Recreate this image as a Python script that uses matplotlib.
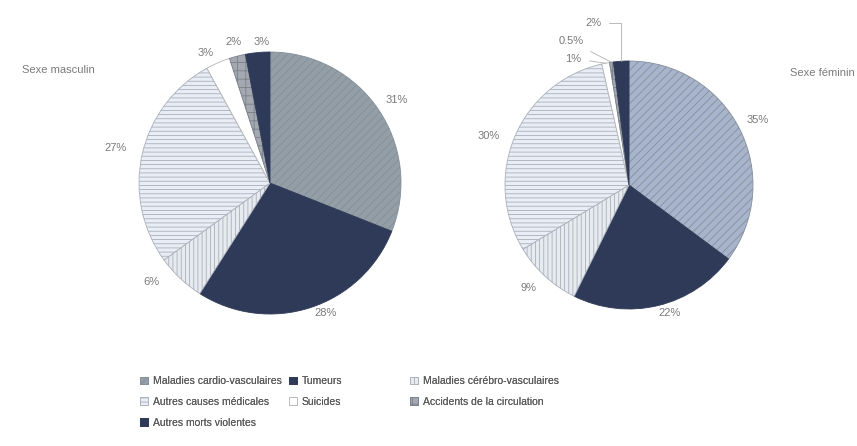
import numpy as np
import matplotlib.pyplot as plt
from matplotlib.patches import Patch

# Causes de décès par sexe (en %)
causes = [
    "Maladies cardio-vasculaires",
    "Tumeurs",
    "Maladies cérébro-vasculaires",
    "Autres causes médicales",
    "Suicides",
    "Accidents de la circulation",
    "Autres morts violentes",
]
hommes = [31, 28, 6, 27, 3, 2, 3]
femmes = [35, 22, 9, 30, 1, 0.5, 2]

plt.rcParams["font.family"] = ["Liberation Sans", "DejaVu Sans"]
plt.rcParams["hatch.linewidth"] = 0.6

couleurs_h = ["#949ea7", "#2e3a57", "#e7eaef", "#e9edf5", "#ffffff", "#a4a9b1", "#2e3a57"]
couleurs_f = ["#a8b4cc", "#2e3a57", "#e7eaef", "#e9edf5", "#ffffff", "#a4a9b1", "#2e3a57"]
traits = ["#848f99", "#2e3a57", "#a9b0bb", "#a9b0bb", "#b5b5b5", "#7a808a", "#2e3a57"]
hachures = ["////", "", "||||", "----", "", "++", ""]

# placement des étiquettes (distance au centre en rayons, décalage angulaire en degrés)
dist_h = [1.16, 1.08, 1.18, 1.21, 1.11, 1.11, 1.08]
decal_h = [-1, 5, -7, 0, 3, 0, -2]
dist_f = [1.16, 1.08, 1.16, 1.20]
decal_f = [0, 4, -2, 4]

W, H = 857, 446
fig = plt.figure(figsize=(W / 100, H / 100), dpi=100)


def axes_camembert(cx, cy, r):
    ax = fig.add_axes([(cx - r) / W, 1 - (cy + r) / H, 2 * r / W, 2 * r / H])
    ax.axis("off")
    return ax


def camembert(ax, valeurs, couleurs):
    wedges, _ = ax.pie(valeurs, colors=couleurs, startangle=90, counterclock=False,
                       radius=1, hatch=hachures, frame=False,
                       wedgeprops=dict(linewidth=0.6))
    for w, c in zip(wedges, traits):
        w.set_edgecolor(c)
    ax.set_xlim(-1, 1)
    ax.set_ylim(-1, 1)
    return wedges


def etiquette(ax, w, v, dist, decal):
    a = np.deg2rad((w.theta1 + w.theta2) / 2 + decal)
    ax.text(dist * np.cos(a), dist * np.sin(a), f"{v:g}%", ha="center", va="center",
            fontsize=8, color="#7a7a7a")


# Sexe masculin
ax1 = axes_camembert(270, 183, 131)
w1 = camembert(ax1, hommes, couleurs_h)
for w, v, d, o in zip(w1, hommes, dist_h, decal_h):
    etiquette(ax1, w, v, d, o)
fig.text(22 / W, 1 - 70 / H, "Sexe masculin", fontsize=8, color="#7a7a7a", va="center")

# Sexe féminin
ax2 = axes_camembert(629, 185, 124)
w2 = camembert(ax2, femmes, couleurs_f)
for w, v, d, o in zip(w2[:4], femmes[:4], dist_f, decal_f):
    etiquette(ax2, w, v, d, o)

# petites parts : étiquettes décalées avec traits de rappel
pos_petites = [(-0.45, 1.02), (-0.47, 1.16), (-0.29, 1.31)]
for w, v, (tx, ty) in zip(w2[4:], femmes[4:], pos_petites):
    a = np.deg2rad((w.theta1 + w.theta2) / 2)
    style = "angle,angleA=0,angleB=90,rad=0" if v == femmes[-1] else "arc3"
    ax2.annotate(f"{v:g}%", xy=(np.cos(a), np.sin(a)), xytext=(tx, ty),
                 ha="center", va="center", fontsize=8, color="#7a7a7a",
                 arrowprops=dict(arrowstyle="-", color="#b0b0b0", lw=0.6,
                                 shrinkA=4, shrinkB=0, connectionstyle=style))
fig.text(790 / W, 1 - 73 / H, "Sexe féminin", fontsize=8, color="#7a7a7a", va="center")

# Légende en trois colonnes
poignees = [Patch(facecolor=c, edgecolor=t, hatch=h, linewidth=0.6)
            for c, t, h in zip(couleurs_h, traits, hachures)]
colonnes = [([0, 3, 6], 140), ([1, 4], 289), ([2, 5], 410)]
for idx, x in colonnes:
    leg = fig.legend([poignees[i] for i in idx], [causes[i] for i in idx],
                     loc="upper left", bbox_to_anchor=(x / W, 1 - 376 / H),
                     frameon=False, fontsize=7.5, handlelength=0.75, handleheight=0.75,
                     handletextpad=0.5, labelspacing=1.05, borderpad=0, borderaxespad=0,
                     labelcolor="#5a5a5a")
    fig.add_artist(leg)

fig.savefig("out.png", dpi=100)
